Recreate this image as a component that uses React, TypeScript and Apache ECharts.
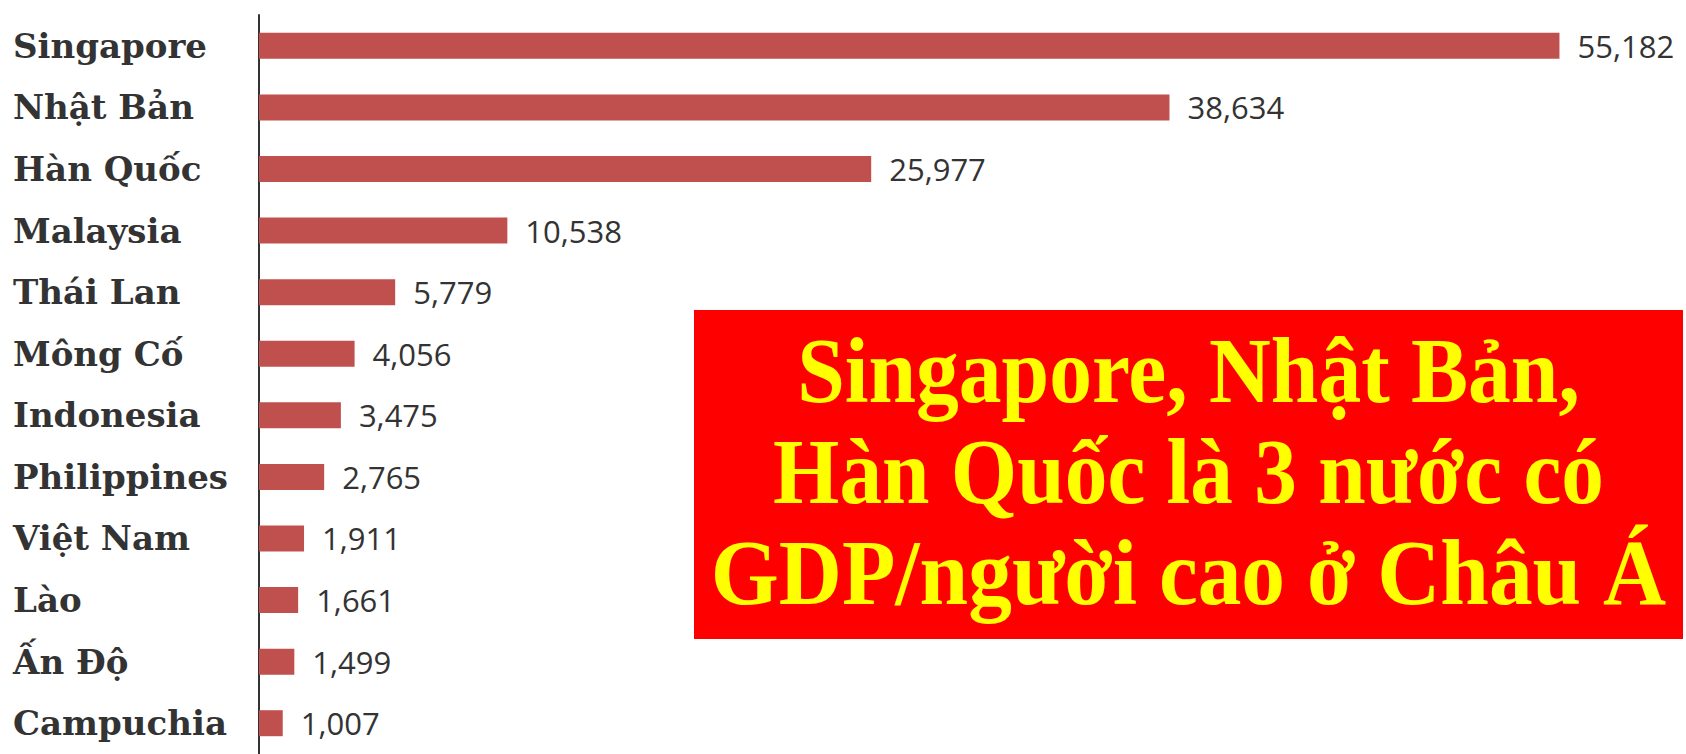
import React, { useEffect, useRef } from "react";
import * as echarts from "echarts";

const categories: string[] = [
  "Singapore",
  "Nhật Bản",
  "Hàn Quốc",
  "Malaysia",
  "Thái Lan",
  "Mông Cố",
  "Indonesia",
  "Philippines",
  "Việt Nam",
  "Lào",
  "Ấn Độ",
  "Campuchia",
];
const gdpPerCapita: number[] = [55182, 38634, 25977, 10538, 5779, 4056, 3475, 2765, 1911, 1661, 1499, 1007];
const calloutLines: string[] = [
  "Singapore, Nhật Bản,",
  "Hàn Quốc là 3 nước có",
  "GDP/người cao ở Châu Á",
];

export default function App() {
  const ref = useRef<HTMLDivElement>(null);
  useEffect(() => {
    if (!ref.current) return;
    const chart = echarts.init(ref.current, undefined, { renderer: "svg" });
    const boxX = 694, boxY = 310, boxW = 989, boxH = 329;
    const cx = boxX + boxW / 2;
    const lineYs = [370, 471, 572];
    const lineScales = [0.91, 0.908, 0.93];
    chart.setOption({
      animation: false,
      backgroundColor: "#ffffff",
      grid: { left: 259, right: 13, top: 15, bottom: -12, containLabel: false },
      xAxis: {
        type: "value",
        min: 0,
        max: 60000,
        show: false,
      },
      yAxis: {
        type: "category",
        data: categories,
        inverse: true,
        axisLine: { show: true, lineStyle: { color: "#333333", width: 2 } },
        axisTick: { show: false },
        splitLine: { show: false },
        axisLabel: {
          align: "left",
          margin: 246,
          fontFamily: "DejaVu Serif",
          fontWeight: "bold",
          fontSize: 34,
          color: "#333333",
        },
      },
      series: [
        {
          type: "bar",
          data: gdpPerCapita,
          barWidth: 26,
          itemStyle: { color: "#c0504d" },
          label: {
            show: true,
            position: "right",
            distance: 18,
            fontFamily: "Open Sans",
            fontSize: 31,
            color: "#333333",
            formatter: (p: any) => Number(p.value).toLocaleString("en-US"),
          },
        },
      ],
      graphic: [
        {
          type: "rect",
          shape: { x: boxX, y: boxY, width: boxW, height: boxH },
          style: { fill: "#ff0000" },
          z: 10,
        },
        ...calloutLines.map((t, i) => ({
          type: "group",
          x: cx,
          y: 0,
          scaleX: lineScales[i],
          scaleY: 1,
          z: 11,
          children: [
            {
              type: "text",
              x: 0,
              y: lineYs[i],
              z: 11,
              style: {
                text: t,
                fill: "#ffff00",
                font: "bold 94px 'Liberation Serif', 'Times New Roman', serif",
                textAlign: "center",
                textVerticalAlign: "middle",
              },
            },
          ],
        })),
      ],
    });
    return () => chart.dispose();
  }, []);
  return (
    <div
      ref={ref}
      style={{ position: "absolute", left: 0, top: 0, width: 1686, height: 754 }}
    />
  );
}
